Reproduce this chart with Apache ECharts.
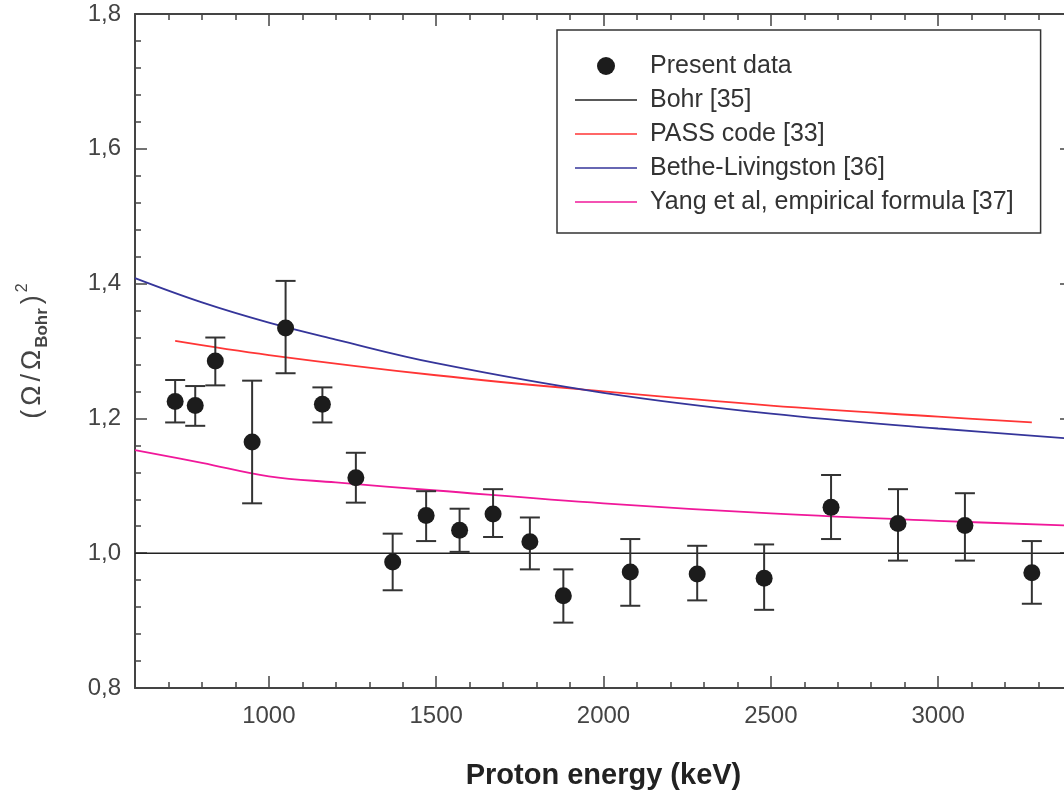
<!DOCTYPE html>
<html><head><meta charset="utf-8">
<script src="https://cdn.jsdelivr.net/npm/echarts@6/dist/echarts.min.js"></script>
<style>html,body{margin:0;padding:0;background:#fff}#c{width:1064px;height:799px}</style>
</head><body><div id="c"></div>
<script>
// Present data
const energy  = [720, 780, 840, 950, 1050, 1160, 1260, 1370, 1470, 1570, 1670, 1780, 1880, 2080, 2280, 2480, 2680, 2880, 3080, 3280];
const ratio   = [1.225, 1.219, 1.285, 1.165, 1.334, 1.221, 1.112, 0.987, 1.056, 1.034, 1.058, 1.017, 0.937, 0.972, 0.969, 0.963, 1.068, 1.044, 1.041, 0.971];
const errLow  = [1.194, 1.189, 1.249, 1.074, 1.267, 1.194, 1.075, 0.945, 1.018, 1.002, 1.024, 0.976, 0.897, 0.922, 0.930, 0.916, 1.021, 0.989, 0.989, 0.925];
const errHigh = [1.257, 1.248, 1.320, 1.256, 1.404, 1.246, 1.149, 1.029, 1.092, 1.066, 1.095, 1.053, 0.976, 1.021, 1.011, 1.013, 1.116, 1.095, 1.089, 1.018];
// Bohr [35]
const bohrX = [600, 3400];
const bohrY = [1.0, 1.0];
// PASS code [33]
const passX = [720, 1000, 1500, 2000, 2500, 3000, 3280];
const passY = [1.315, 1.294, 1.264, 1.240, 1.219, 1.2025, 1.194];
// Bethe-Livingston [36]
const betheX = [600, 800, 1000, 1200, 1500, 2000, 2500, 3000, 3400];
const betheY = [1.408, 1.372, 1.342, 1.317, 1.282, 1.238, 1.207, 1.185, 1.170];
// Yang et al, empirical formula [37]
const yangX = [600, 800, 1000, 1200, 1500, 2000, 2500, 3000, 3400];
const yangY = [1.153, 1.134, 1.114, 1.105, 1.093, 1.074, 1.059, 1.048, 1.041];
// tick labels
const xTickLabels = [1000, 1500, 2000, 2500, 3000];
const yTickLabels = ['0,8', '1,0', '1,2', '1,4', '1,6', '1,8'];
const seriesNames = ['Present data', 'Bohr [35]', 'PASS code [33]', 'Bethe-Livingston [36]', 'Yang et al, empirical formula [37]'];

const FONT = 'Liberation Sans, Arial, sans-serif';
const AX = '#444';
const LINE_ICON = 'path://M0,0 M62,18 M0,8.2 L62,8.2 L62,9.8 L0,9.8 Z';
const zip = (xs, ys) => xs.map((x, i) => [x, ys[i]]);

const chart = echarts.init(document.getElementById('c'), null, {renderer: 'canvas'});

const baseX = {
  type: 'value', min: 600, max: 3400, gridIndex: 0,
  splitLine: {show: false}
};
const baseY = {
  type: 'value', min: 0.8, max: 1.8, interval: 0.2, gridIndex: 0,
  splitLine: {show: false}
};

chart.setOption({
  animation: false,
  backgroundColor: '#fff',
  grid: {left: 135, width: 937, top: 14, bottom: 111, containLabel: false, outerBoundsMode: 'none'},
  xAxis: [
    Object.assign({}, baseX, {
      position: 'bottom', interval: 100,
      axisLine: {show: true, onZero: false, lineStyle: {color: AX, width: 2}},
      axisTick: {show: true, inside: true, length: 6, lineStyle: {color: AX, width: 1.5}},
      axisLabel: {show: true, customValues: xTickLabels, margin: 16, color: '#444', fontSize: 24, fontFamily: FONT,
        formatter: (v) => String(v)},
      name: 'Proton energy (keV)', nameLocation: 'middle', nameGap: 73,
      nameTextStyle: {fontSize: 29, fontWeight: 'bold', color: '#222', fontFamily: FONT}
    }),
    Object.assign({}, baseX, {
      position: 'bottom',
      axisLine: {show: false, onZero: false},
      axisTick: {show: true, inside: true, length: 12, customValues: xTickLabels, lineStyle: {color: AX, width: 1.5}},
      axisLabel: {show: false}
    }),
    Object.assign({}, baseX, {
      position: 'top', interval: 100,
      axisLine: {show: true, onZero: false, lineStyle: {color: AX, width: 2}},
      axisTick: {show: true, inside: true, length: 6, lineStyle: {color: AX, width: 1.5}},
      axisLabel: {show: false}
    }),
    Object.assign({}, baseX, {
      position: 'top',
      axisLine: {show: false, onZero: false},
      axisTick: {show: true, inside: true, length: 12, customValues: xTickLabels, lineStyle: {color: AX, width: 1.5}},
      axisLabel: {show: false}
    })
  ],
  yAxis: [
    Object.assign({}, baseY, {
      position: 'left',
      axisLine: {show: true, onZero: false, lineStyle: {color: AX, width: 2}},
      axisTick: {show: true, inside: true, length: 12, lineStyle: {color: AX, width: 1.5}},
      minorTick: {show: true, splitNumber: 5, length: 6, lineStyle: {color: AX, width: 1.5}},
      axisLabel: {
        margin: 14, color: '#444', fontSize: 24, fontFamily: FONT,
        formatter: (v) => yTickLabels[Math.round((v - 0.8) / 0.2)]
      },
      name: '{a|(}{p|Ω}{c|/}{p|Ω}{s|Bohr}{d|)}{e|2}',
      nameLocation: 'middle', nameGap: 84, nameRotate: 90,
      nameTextStyle: {
        color: '#444', fontFamily: FONT,
        rich: {
          a: {fontSize: 27, lineHeight: 36, color: '#444', fontFamily: FONT, verticalAlign: 'middle', padding: [0, 4, 0, 0]},
          p: {fontSize: 27, lineHeight: 36, color: '#444', fontFamily: FONT, verticalAlign: 'middle'},
          c: {fontSize: 27, lineHeight: 36, color: '#444', fontFamily: FONT, verticalAlign: 'middle', padding: [0, 4, 0, 4]},
          d: {fontSize: 27, lineHeight: 36, color: '#444', fontFamily: FONT, verticalAlign: 'middle', padding: [0, 0, 0, 4]},
          s: {fontSize: 17, fontWeight: 'bold', color: '#444', fontFamily: FONT, verticalAlign: 'bottom', padding: [0, 0, 0, 2]},
          e: {fontSize: 16, color: '#444', fontFamily: FONT, verticalAlign: 'top', padding: [0, 0, 0, 3]}
        }
      }
    }),
    Object.assign({}, baseY, {
      position: 'right',
      axisLine: {show: true, onZero: false, lineStyle: {color: AX, width: 2}},
      axisTick: {show: true, inside: true, length: 12, lineStyle: {color: AX, width: 1.5}},
      minorTick: {show: true, splitNumber: 5, length: 6, lineStyle: {color: AX, width: 1.5}},
      axisLabel: {show: false}
    })
  ],
  legend: {
    orient: 'vertical', left: 557, top: 30,
    padding: [22, 27, 17, 18],
    itemWidth: 62, itemHeight: 18, itemGap: 6,
    borderColor: '#333', borderWidth: 1.5,
    backgroundColor: '#fff',
    textStyle: {fontSize: 25, lineHeight: 28, color: '#333', fontFamily: FONT, padding: [0, 0, 0, 8]},
    data: [
      {name: seriesNames[0], icon: 'circle'},
      {name: seriesNames[1], icon: LINE_ICON},
      {name: seriesNames[2], icon: LINE_ICON},
      {name: seriesNames[3], icon: LINE_ICON},
      {name: seriesNames[4], icon: LINE_ICON}
    ],
    selectedMode: false
  },
  series: [
    {
      name: seriesNames[1], type: 'line', data: zip(bohrX, bohrY), symbol: 'none',
      lineStyle: {color: '#222', width: 1.5}, itemStyle: {color: '#222'}, z: 2
    },
    {
      name: seriesNames[2], type: 'line', data: zip(passX, passY), symbol: 'none', smooth: 0.4,
      lineStyle: {color: '#ff3535', width: 1.8}, itemStyle: {color: '#ff3535'}, z: 2
    },
    {
      name: seriesNames[3], type: 'line', data: zip(betheX, betheY), symbol: 'none', smooth: 0.4,
      lineStyle: {color: '#35359a', width: 1.8}, itemStyle: {color: '#35359a'}, z: 2
    },
    {
      name: seriesNames[4], type: 'line', data: zip(yangX, yangY), symbol: 'none', smooth: 0.4,
      lineStyle: {color: '#f0189a', width: 1.8}, itemStyle: {color: '#f0189a'}, z: 2
    },
    {
      name: 'error', type: 'custom', z: 3,
      data: energy.map((e, i) => [e, errLow[i], errHigh[i]]),
      encode: {x: 0, y: [1, 2]},
      renderItem: (params, api) => {
        const x = api.value(0);
        const lo = api.coord([x, api.value(1)]);
        const hi = api.coord([x, api.value(2)]);
        const w = 10;
        const st = {stroke: '#333', lineWidth: 2};
        return {type: 'group', children: [
          {type: 'line', shape: {x1: lo[0], y1: lo[1], x2: hi[0], y2: hi[1]}, style: st},
          {type: 'line', shape: {x1: lo[0] - w, y1: lo[1], x2: lo[0] + w, y2: lo[1]}, style: st},
          {type: 'line', shape: {x1: hi[0] - w, y1: hi[1], x2: hi[0] + w, y2: hi[1]}, style: st}
        ]};
      }
    },
    {
      name: seriesNames[0], type: 'scatter', data: zip(energy, ratio),
      symbol: 'circle', symbolSize: 17,
      itemStyle: {color: '#1c1c1c', opacity: 1}, z: 4
    }
  ]
});
</script>
</body></html>
